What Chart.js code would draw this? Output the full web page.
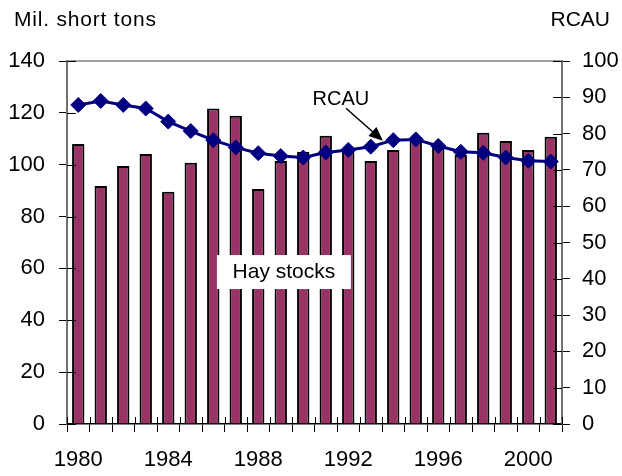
<!DOCTYPE html>
<html>
<head>
<meta charset="utf-8">
<script src="https://cdn.jsdelivr.net/npm/chart.js@4"></script>
<style>
  body { margin: 0; background: #fff; }
  #wrap { width: 622px; height: 476px; }
</style>
</head>
<body>
<div id="wrap"><canvas id="chart" width="622" height="476"></canvas></div>
<script>
const years = ['1980', '1981', '1982', '1983', '1984', '1985', '1986', '1987', '1988', '1989', '1990',
  '1991', '1992', '1993', '1994', '1995', '1996', '1997', '1998', '1999', '2000', '2001'];
const hayStocks = [108, 91.8, 99.5, 104.1, 89.6, 100.8, 121.7, 118.9, 90.6, 101.4, 105,
  111.2, 105, 101.4, 105.7, 109.5, 106.4, 103.7, 112.3, 109.1, 105.7, 110.8];
const rcau = [87.9, 89, 87.9, 86.9, 83.3, 80.7, 78.2, 76.2, 74.6, 73.8, 73.4,
  74.8, 75.5, 76.4, 78.2, 78.4, 76.6, 75, 74.7, 73.4, 72.5, 72.3];
const leftTicks = [0, 20, 40, 60, 80, 100, 120, 140];
const rightTicks = [0, 10, 20, 30, 40, 50, 60, 70, 80, 90, 100];

const FONT = "'Liberation Sans', Arial, sans-serif";

// ticks that cross the axes + top frame line + labels and arrow
const extras = {
  id: 'extras',
  afterDraw(c) {
    const ctx = c.ctx, a = c.chartArea;
    const x = c.scales.x, yl = c.scales.yl, yr = c.scales.yr;
    ctx.save();
    // top frame
    ctx.strokeStyle = '#a0a0a0';
    ctx.lineWidth = 2;
    ctx.beginPath();
    ctx.moveTo(a.left, a.top);
    ctx.lineTo(a.right, a.top);
    ctx.stroke();
    // inner tick halves
    ctx.strokeStyle = '#000';
    ctx.lineWidth = 1;
    ctx.beginPath();
    leftTicks.forEach(v => {
      const py = Math.round(yl.getPixelForValue(v)) + 0.5;
      ctx.moveTo(a.left, py); ctx.lineTo(a.left + 9, py);
    });
    rightTicks.forEach(v => {
      const py = Math.round(yr.getPixelForValue(v)) + 0.5;
      ctx.moveTo(a.right - 9, py); ctx.lineTo(a.right, py);
    });
    for (let i = 0; i <= years.length; i++) {
      const px = Math.round(x.getPixelForValue(i - 0.5)) + 0.5;
      ctx.moveTo(px, a.bottom - 7); ctx.lineTo(px, a.bottom);
    }
    ctx.stroke();

    // axis titles
    ctx.fillStyle = '#000';
    ctx.font = '21px ' + FONT;
    ctx.textBaseline = 'middle';
    ctx.textAlign = 'left';
    ctx.letterSpacing = '0.8px';
    ctx.fillText('Mil. short tons', 14, 20);
    ctx.letterSpacing = '0px';
    ctx.textAlign = 'right';
    ctx.fillText('RCAU', 610, 20);

    // RCAU label with arrow
    ctx.font = '20px ' + FONT;
    ctx.textAlign = 'center';
    ctx.fillText('RCAU', x.getPixelForValue(11.67), yr.getPixelForValue(89.5));
    const x0 = x.getPixelForValue(11.9), y0 = yr.getPixelForValue(87);
    const x1 = x.getPixelForValue(13.54), y1 = yr.getPixelForValue(78);
    const ang = Math.atan2(y1 - y0, x1 - x0);
    ctx.strokeStyle = '#000';
    ctx.lineWidth = 1.5;
    ctx.beginPath();
    ctx.moveTo(x0, y0);
    ctx.lineTo(x1 - 10 * Math.cos(ang), y1 - 10 * Math.sin(ang));
    ctx.stroke();
    ctx.beginPath();
    ctx.moveTo(x1, y1);
    ctx.lineTo(x1 - 14 * Math.cos(ang) + 6 * Math.sin(ang), y1 - 14 * Math.sin(ang) - 6 * Math.cos(ang));
    ctx.lineTo(x1 - 14 * Math.cos(ang) - 6 * Math.sin(ang), y1 - 14 * Math.sin(ang) + 6 * Math.cos(ang));
    ctx.closePath();
    ctx.fill();

    // Hay stocks label on white box
    ctx.font = '21px ' + FONT;
    const hx = x.getPixelForValue(9.14), hy = yl.getPixelForValue(58.6);
    ctx.fillStyle = '#fff';
    ctx.fillRect(hx - 67, hy - 17, 134, 34);
    ctx.fillStyle = '#000';
    ctx.fillText('Hay stocks', hx, hy);
    ctx.restore();
  }
};

new Chart(document.getElementById('chart'), {
  data: {
    labels: years,
    datasets: [
      {
        type: 'line',
        label: 'RCAU',
        data: rcau,
        yAxisID: 'yr',
        borderColor: '#000080',
        backgroundColor: '#000080',
        borderWidth: 3,
        pointStyle: 'rectRot',
        pointRadius: 7.5,
        pointBorderWidth: 1,
        tension: 0,
        order: 0
      },
      {
        type: 'bar',
        label: 'Hay stocks',
        data: hayStocks,
        yAxisID: 'yl',
        backgroundColor: '#993366',
        borderColor: '#000',
        borderWidth: 2,
        barPercentage: 0.55,
        categoryPercentage: 1,
        order: 1
      }
    ]
  },
  options: {
    responsive: false,
    animation: false,
    layout: { padding: { top: 61, bottom: 0, left: 0, right: 0 } },
    plugins: { legend: { display: false }, tooltip: { enabled: false } },
    scales: {
      x: {
        offset: true,
        grid: { offset: true, drawOnChartArea: false, tickLength: 8, color: '#000' },
        border: { color: '#000', width: 1.5 },
        ticks: {
          autoSkip: false,
          maxRotation: 0,
          padding: 15,
          color: '#000',
          font: { family: FONT, size: 22 },
          callback: (v, i) => (i % 4 === 0 ? years[i] : '')
        },
        afterFit: s => { s.height = 52; s.paddingRight = 0; s.paddingLeft = 0; }
      },
      yl: {
        position: 'left',
        min: 0, max: 140,
        afterBuildTicks: s => { s.ticks = leftTicks.map(v => ({ value: v })); },
        grid: { drawOnChartArea: false, tickLength: 8, color: '#000' },
        border: { color: '#707070', width: 2 },
        ticks: { padding: 14, color: '#000', font: { family: FONT, size: 22 } },
        afterFit: s => { s.width = 67; }
      },
      yr: {
        position: 'right',
        min: 0, max: 100,
        afterBuildTicks: s => { s.ticks = rightTicks.map(v => ({ value: v })); },
        grid: { drawOnChartArea: false, tickLength: 8, color: '#000' },
        border: { color: '#707070', width: 2 },
        ticks: { padding: 12, color: '#000', font: { family: FONT, size: 22 } },
        afterFit: s => { s.width = 60; }
      }
    }
  },
  plugins: [extras]
});
</script>
</body>
</html>
